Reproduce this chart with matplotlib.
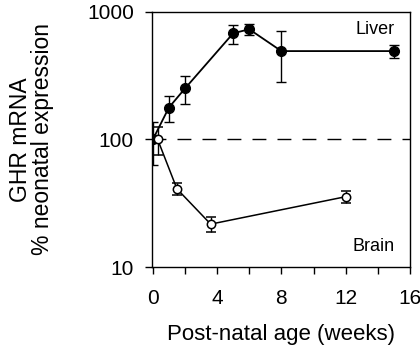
import numpy as np
import matplotlib.pyplot as plt
from matplotlib.ticker import FixedLocator, NullLocator

# Liver GHR mRNA (% of neonatal)
liver_weeks = [0, 1, 2, 5, 6, 8, 15]
liver_mean = [100, 178, 251, 680, 731, 493, 493]
liver_err = [37, 40, 63, 115, 70, 210, 55]

# Brain GHR mRNA (% of neonatal)
brain_weeks = [0.3, 1.5, 3.6, 12]
brain_mean = [100, 41, 21.7, 35.6]
brain_err = [25, 4.5, 3, 3.7]

plt.rcParams['font.family'] = ['Liberation Sans', 'DejaVu Sans']

fig = plt.figure(figsize=(4.2, 3.5), dpi=100)
ax = fig.add_axes([0.362, 0.237, 0.614, 0.729])

ax.axhline(100, color='black', linestyle=(0, (10, 8)), linewidth=1.0, zorder=1)

ax.errorbar(liver_weeks, liver_mean, yerr=liver_err, color='black', marker='o',
            markersize=7, linewidth=1.3, elinewidth=1.0, capsize=3.5, capthick=1.0,
            markerfacecolor='black', zorder=3)
ax.errorbar(brain_weeks, brain_mean, yerr=brain_err, color='black', marker='o',
            markersize=6, linewidth=1.1, elinewidth=1.0, capsize=3.5, capthick=1.0,
            markerfacecolor='white', markeredgewidth=1.1, zorder=4)

ax.set_yscale('log')
ax.set_ylim(10, 1000)
ax.set_xlim(-0.05, 15.8)
ax.yaxis.set_major_locator(FixedLocator([10, 100, 1000]))
ax.yaxis.set_minor_locator(NullLocator())
ax.set_yticklabels(['10', '100', '1000'])
ax.set_xticks([0, 4, 8, 12, 16])
ax.set_xticks([2, 6, 10, 14], minor=True)

ax.tick_params(axis='both', which='both', direction='out', length=5, width=1,
               labelsize=15)
ax.tick_params(axis='x', pad=11)
ax.tick_params(axis='y', pad=8)

for s in ax.spines.values():
    s.set_linewidth(1.0)

ax.text(0.94, 0.93, 'Liver', transform=ax.transAxes, ha='right', va='center', fontsize=13)
ax.text(0.94, 0.08, 'Brain', transform=ax.transAxes, ha='right', va='center', fontsize=13)

ax.set_xlabel('Post-natal age (weeks)', fontsize=16, labelpad=11)
ax.set_ylabel('GHR mRNA\n% neonatal expression', fontsize=16.5, labelpad=24,
              linespacing=0.95)

fig.savefig('out.png', dpi=100)
